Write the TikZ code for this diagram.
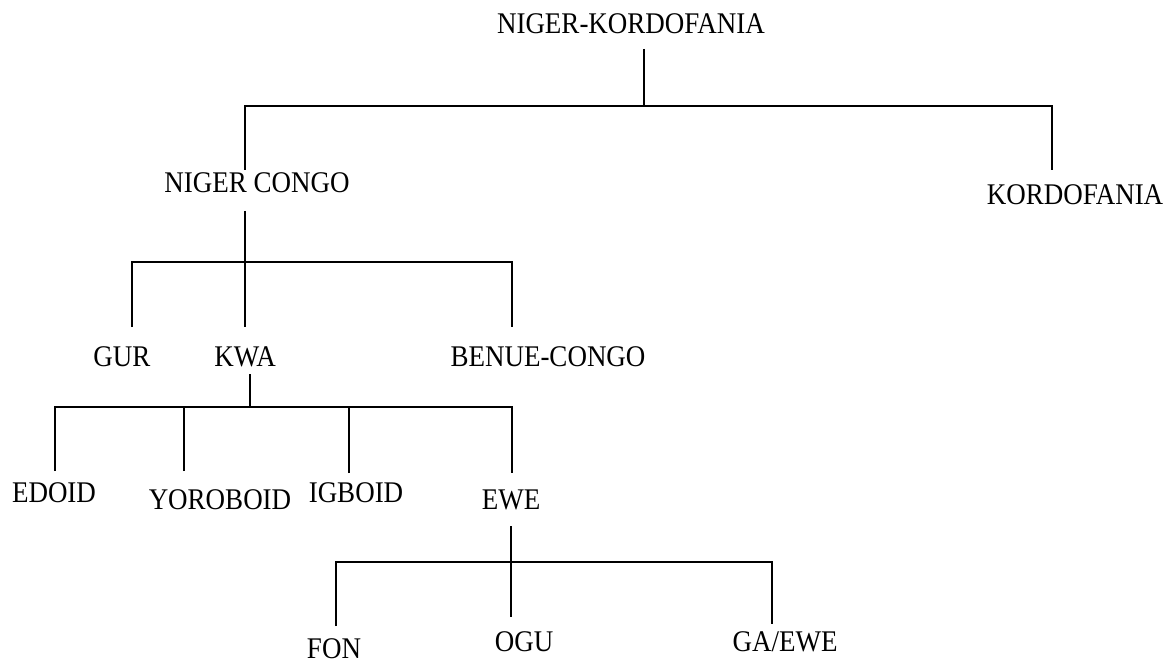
\documentclass[tikz,border=0pt]{standalone}
\usepackage{fontspec}
\setmainfont[FakeStretch=0.9]{Liberation Serif}
\usepackage{tikz}

\begin{document}
\begin{tikzpicture}[x=0.5pt,y=-0.5pt,line width=1pt,
    lang/.style={inner sep=0pt,text height=10pt,text depth=0pt,font=\fontsize{15}{18}\selectfont}]
  \useasboundingbox (0,0) rectangle (1170,662);
  % language names
  \foreach \n/\x/\y/\t in {nk/631/24/NIGER-KORDOFANIA,nc/257/183/NIGER CONGO,kd/1075/195/KORDOFANIA,
      gur/122/356/GUR,kwa/245/356/KWA,bc/548/356/BENUE-CONGO,
      edoid/54/492/EDOID,yor/220/499/YOROBOID,igb/356/492/IGBOID,ewe/511/499/EWE,
      fon/334/648/FON,ogu/524/641/OGU,ga/785/641/{GA/EWE}}{
    \node[lang] (\n) at (\x,\y) {\t};
  }
  % junctions and ends of the drops
  \foreach \n/\x/\y in {j1/644/106,j2/245/262,j3/250/407,j4/511/562,
      dnc/245/170,dkd/1052/170,dgur/132/327,dkwa/245/327,dbc/512/327,
      dedoid/55/471,dyor/184/471,digb/349/473,dewe/512/473,
      dfon/336/626,dogu/511/617,dga/772/624}{
    \coordinate (\n) at (\x,\y);
  }
  \draw ([yshift=-7pt]nk.south -| j1) -- (j1);
  \draw (dnc) |- (j1) -| (dkd);
  \draw ([yshift=-8.5pt]nc.south -| dkwa) -- (dkwa);
  \draw (dgur) |- (j2) -| (dbc);
  \draw ([yshift=-3.5pt]kwa.south -| j3) -- (j3);
  \draw (dedoid) |- (j3) -| (dewe);
  \draw (dyor) -- (dyor |- j3);
  \draw (digb) -- (digb |- j3);
  \draw ([yshift=-8pt]ewe.south -| dogu) -- (dogu);
  \draw (dfon) |- (j4) -| (dga);
\end{tikzpicture}
\end{document}
